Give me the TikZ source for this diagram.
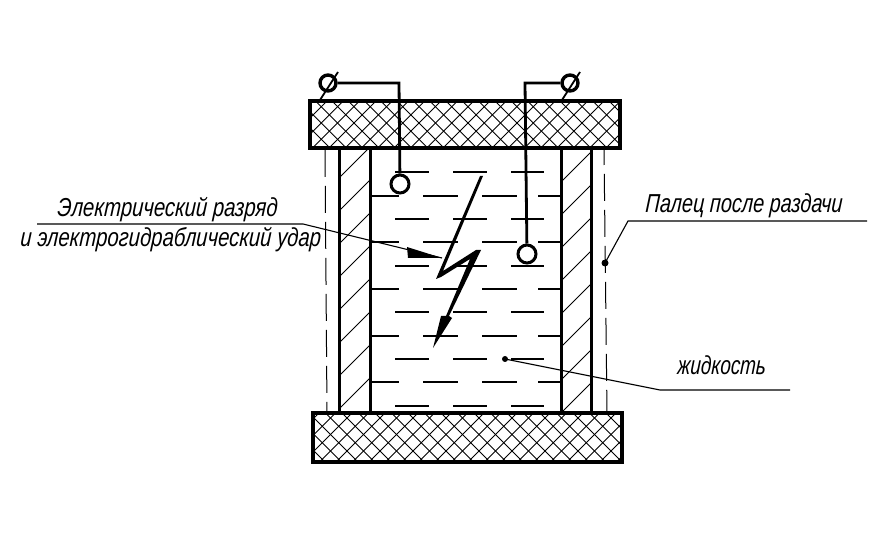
\documentclass[tikz,border=0pt]{standalone}
\usepackage{fontspec}
\usepackage{graphicx}
\setmainfont{Liberation Sans}
\newfontfamily\cad{Liberation Sans Italic}[FakeSlant=0.08]
\newcommand{\tall}[2]{\scalebox{#1}[1.28]{#2}}
\tikzset{
  heavy/.style={draw=black,line width=3pt},
  wire/.style={draw=black,line width=2.8pt},
  slash/.style={draw=black,line width=1.8pt},
  leader/.style={draw=black,line width=1.1pt},
  hatch/.style={draw=black,line width=0.9pt},
  wall hatch/.style={draw=black,line width=0.8pt},
  axis line/.style={draw=black,line width=1pt,dash pattern=on 27pt off 9pt},
  liquid/.style={draw=black,line width=1.4pt},
  ring/.style={circle,draw=black,line width=3pt,minimum size=18pt,inner sep=0pt},
  gauge/.style={circle,draw=black,line width=3.4pt,minimum size=16pt,inner sep=0pt},
  caption/.style={font=\cad\fontsize{20.3}{20.3}\selectfont,anchor=base west,inner sep=0pt},
  plate/.style={draw=black,line width=3.4pt}
}
\begin{document}
\begin{tikzpicture}[x=1pt,y=-1pt]
\useasboundingbox (0,0) rectangle (892,534);
\fill[white] (0,0) rectangle (892,534);
% plates hatch
\begin{scope}
\clip (310,101) rectangle (620,148);
\foreach \c in {0,16.3,...,400}{
  \draw[hatch] (\c+280,148) -- ++(60,-60);
  \draw[hatch] (\c+270,88) -- ++(60,60);
}
\end{scope}
\begin{scope}
\clip (313,413) rectangle (622,462);
\foreach \c in {0,16.5,...,400}{
  \draw[hatch] (\c+270,462) -- ++(60,-60);
  \draw[hatch] (\c+265,402) -- ++(60,60);
}
\end{scope}
\draw[plate] (310,101) rectangle (620,148);
\draw[plate] (313,413) rectangle (622,462);
% wall hatching
\begin{scope}
\clip (339,148) rectangle (370,413);
\foreach \y in {147,180,...,400}{ \draw[wall hatch] (370,\y) -- ++(-32,32); }
\end{scope}
\begin{scope}
\clip (561,148) rectangle (591,413);
\foreach \y in {152,185,...,400}{ \draw[wall hatch] (591,\y) -- ++(-31,31); }
\end{scope}
% walls
\draw[heavy] (339,148) -- (339,413);
\draw[heavy] (370,148) -- (370,413);
\draw[heavy] (561,148) -- (561,413);
\draw[heavy] (591,148) -- (591,413);
% outer axis lines
\draw[axis line] (325,150) -- (327,413);
\draw[axis line,dash phase=12pt] (604,150) -- (607,413);
% liquid
\foreach \y in {172,219,266,312,359,406}{
  \draw[liquid] (395,\y) -- (429,\y);
  \draw[liquid] (453,\y) -- (487,\y);
  \draw[liquid] (511,\y) -- (544,\y);
}
\foreach \y in {196,242,289,336,382}{
  \draw[liquid] (372,\y) -- (399,\y);
  \draw[liquid] (423,\y) -- (458,\y);
  \draw[liquid] (482,\y) -- (517,\y);
  \draw[liquid] (538,\y) -- (560,\y);
}
% electrodes
\node[ring,fill=white] (leftRing) at (400,184) {};
\node[ring,fill=white] (rightRing) at (527,254) {};
\node[gauge] (leftGauge) at (328,83) {};
\node[gauge] (rightGauge) at (570,83) {};
\coordinate (leftCorner) at (399,83);
\coordinate (rightCorner) at (525,83);
\draw[wire] (leftGauge) -- (leftCorner) -- (leftRing);
\draw[wire] (rightGauge) -- (rightCorner) -- (rightRing);
\draw[slash] (320,100) -- (338,72);
\draw[slash] (562,100) -- (580,72);
% lightning
\fill[black] (483,176) -- (480,176) -- (436,279) -- (441,277) -- (470,259) -- (446,316) -- (441,316) -- (433,348) -- (452,318) -- (449,316) -- (481,250) -- (476,250) -- (443,271) -- cycle;
% captions
\node[caption] (discharge1) at (57,217) {\tall{1}{Электрический разряд}};
\node[caption] (discharge2) at (20,247) {\tall{1}{и электрогидраблический удар}};
\node[caption] (finger) at (645,213) {\tall{0.98}{Палец после раздачи}};
\node[caption] (fluid) at (677,375) {\tall{0.93}{жидкость}};
% leaders
\coordinate (dischargeA) at (37,224);
\coordinate (dischargeB) at (303,224);
\coordinate (dischargeTip) at (442,258);
\coordinate (fingerA) at (867,221);
\coordinate (fingerB) at (628,221);
\coordinate (fingerTip) at (605,263);
\coordinate (fluidA) at (790,390);
\coordinate (fluidB) at (660,390);
\coordinate (fluidTip) at (505,359);
\draw[leader] (dischargeA) -- (dischargeB) -- (dischargeTip);
\fill[black] (dischargeTip) -- (407,247) -- (408,258) -- cycle;
\draw[leader] (fingerA) -- (fingerB) -- (fingerTip);
\fill[black] (fingerTip) circle (3.5pt);
\draw[leader] (fluidA) -- (fluidB) -- (fluidTip);
\fill[black] (fluidTip) circle (3pt);
\end{tikzpicture}
\end{document}
